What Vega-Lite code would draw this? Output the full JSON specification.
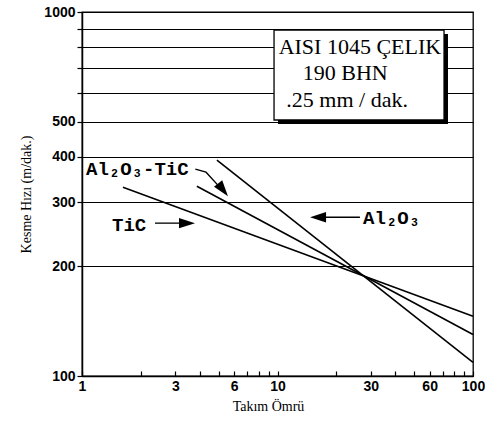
{
  "$schema": "https://vega.github.io/schema/vega-lite/v6.json",
  "width": 391,
  "height": 364,
  "autosize": {"type": "none"},
  "padding": {"left": 82, "top": 12, "right": 12, "bottom": 47},
  "background": "white",
  "config": {
    "view": {"stroke": "black", "strokeWidth": 1.3},
    "axis": {
      "domainColor": "black", "domainWidth": 1.5,
      "tickColor": "black", "tickWidth": 1.2,
      "labelFont": "Liberation Sans", "labelFontWeight": "bold", "labelFontSize": 14, "labelColor": "black",
      "titleFont": "Liberation Serif", "titleFontWeight": "normal", "titleFontSize": 14, "titleColor": "black"
    }
  },
  "datasets": {
    "lines": [
      {"series": "Al2O3", "x": 4.9, "y": 392},
      {"series": "Al2O3", "x": 100, "y": 109},
      {"series": "Al2O3-TiC", "x": 3.87, "y": 332},
      {"series": "Al2O3-TiC", "x": 100, "y": 130},
      {"series": "TiC", "x": 1.62, "y": 330},
      {"series": "TiC", "x": 100, "y": 146}
    ],
    "box": [{"x": 9.6, "x2": 71.1, "y": 892, "y2": 505}],
    "shadow": [{"x": 10.06, "x2": 74.5, "y": 870, "y2": 492}],
    "boxtext": [
      {"x": 26.4, "y": 801, "label": "AISI 1045 ÇELIK"},
      {"x": 22.2, "y": 680, "label": "190 BHN"},
      {"x": 22.7, "y": 573, "label": ".25 mm / dak."}
    ],
    "labels": [
      {"x": 1.048, "y": 370, "label": "Al₂O₃-TiC"},
      {"x": 1.424, "y": 260, "label": "TiC"},
      {"x": 27.4, "y": 272, "label": "Al₂O₃"}
    ],
    "arrows": [
      {"id": "a", "o": 1, "x": 3.8, "y": 370},
      {"id": "a", "o": 2, "x": 4.31, "y": 363},
      {"id": "a", "o": 3, "x": 5.2, "y": 325},
      {"id": "b", "o": 1, "x": 2.363, "y": 263},
      {"id": "b", "o": 2, "x": 3.4, "y": 263},
      {"id": "c", "o": 1, "x": 26.4, "y": 273},
      {"id": "c", "o": 2, "x": 16.0, "y": 273}
    ],
    "heads": [
      {"id": "a", "x": 5.58, "y": 312},
      {"id": "b", "x": 3.785, "y": 263},
      {"id": "c", "x": 14.67, "y": 273}
    ]
  },
  "encoding": {
    "x": {"field": "x", "type": "quantitative"},
    "y": {"field": "y", "type": "quantitative"}
  },
  "layer": [
    {
      "data": {"name": "lines"},
      "mark": {"type": "line", "color": "black", "strokeWidth": 1.6},
      "encoding": {
        "x": {
          "field": "x", "type": "quantitative",
          "scale": {"type": "log", "domain": [1, 100], "nice": false},
          "axis": {
            "title": "Takım Ömrü",
            "values": [1, 2, 3, 4, 5, 6, 7, 8, 9, 10, 20, 30, 40, 50, 60, 70, 80, 90, 100],
            "labelExpr": "indexof([1,3,6,10,30,60,100], datum.value) >= 0 ? format(datum.value, 'd') : ''",
            "tickSize": -5, "labelPadding": 8, "grid": false, "titlePadding": 6, "titleX": 186,
            "labelFlush": false
          }
        },
        "y": {
          "field": "y", "type": "quantitative",
          "scale": {"type": "log", "domain": [100, 1000], "nice": false},
          "axis": {
            "title": "Kesme Hızı (m/dak.)",
            "values": [100, 200, 300, 400, 500, 600, 700, 800, 900, 1000],
            "labelExpr": "indexof([100,200,300,400,500,1000], datum.value) >= 0 ? format(datum.value, 'd') : ''",
            "tickSize": 5, "labelPadding": 2, "grid": true, "gridColor": "black", "gridOpacity": 1, "gridWidth": 1.1,
            "titlePadding": 10, "labelFlush": false
          }
        },
        "detail": {"field": "series"}
      }
    },
    {
      "data": {"name": "shadow"},
      "mark": {"type": "rect", "color": "black"},
      "encoding": {"x2": {"field": "x2"}, "y2": {"field": "y2"}}
    },
    {
      "data": {"name": "box"},
      "mark": {"type": "rect", "fill": "white", "stroke": "black", "strokeWidth": 1.3},
      "encoding": {"x2": {"field": "x2"}, "y2": {"field": "y2"}}
    },
    {
      "data": {"name": "boxtext"},
      "mark": {"type": "text", "font": "Liberation Serif", "fontSize": 22, "align": "center", "baseline": "middle", "color": "black"},
      "encoding": {"text": {"field": "label"}}
    },
    {
      "data": {"name": "labels"},
      "mark": {"type": "text", "font": "Liberation Mono", "fontWeight": "bold", "fontSize": 19, "align": "left", "baseline": "middle", "color": "black"},
      "encoding": {"text": {"field": "label"}}
    },
    {
      "data": {"name": "arrows"},
      "mark": {"type": "line", "color": "black", "strokeWidth": 1.3},
      "encoding": {"detail": {"field": "id"}, "order": {"field": "o"}}
    },
    {
      "data": {"name": "heads"},
      "transform": [{"filter": "datum.id == 'a'"}],
      "mark": {"type": "point", "shape": "M0,0L-2,-0.65L-2,0.65Z", "filled": true, "color": "black", "opacity": 1, "size": 256, "angle": 52}
    },
    {
      "data": {"name": "heads"},
      "transform": [{"filter": "datum.id == 'b'"}],
      "mark": {"type": "point", "shape": "M0,0L-2,-0.65L-2,0.65Z", "filled": true, "color": "black", "opacity": 1, "size": 256, "angle": 0}
    },
    {
      "data": {"name": "heads"},
      "transform": [{"filter": "datum.id == 'c'"}],
      "mark": {"type": "point", "shape": "M0,0L-2,-0.65L-2,0.65Z", "filled": true, "color": "black", "opacity": 1, "size": 256, "angle": 180}
    }
  ]
}
